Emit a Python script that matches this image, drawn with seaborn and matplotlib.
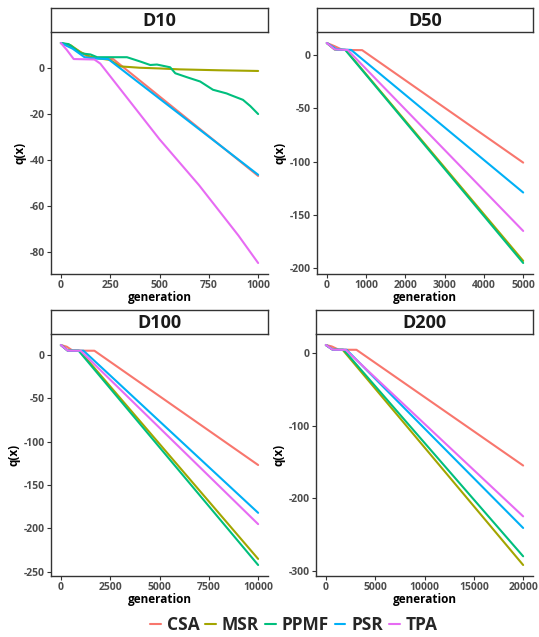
import matplotlib
matplotlib.use("Agg")
import matplotlib.pyplot as plt
from matplotlib.lines import Line2D
import seaborn as sns
import pandas as pd

# ---------------- data ----------------
methods = ["CSA", "MSR", "PPMF", "PSR", "TPA"]
colors = ["#F8766D", "#A3A500", "#00BF7D", "#00B0F6", "#E76BF3"]
panels = ["D10", "D50", "D100", "D200"]

# D10
d10_csa_gen = [0, 50, 100, 140, 200, 265, 1000]
d10_csa_q = [11, 9.5, 7, 4.8, 4.3, 4, -47]
d10_msr_gen = [0, 50, 100, 150, 200, 250, 300, 400, 500, 600, 800, 1000]
d10_msr_q = [11, 10, 7, 5, 4.2, 3.6, 0.8, 0.2, -0.1, -0.5, -0.9, -1.2]
d10_ppmf_gen = [0, 40, 100, 150, 184, 335, 403, 453, 487, 554, 580, 638, 706, 771, 840, 857, 923, 960, 1000]
d10_ppmf_q = [11, 10.5, 6.5, 6, 4.8, 4.8, 2.9, 1.4, 1.6, 0.4, -2.2, -3.9, -5.8, -9.4, -11, -11.6, -13.8, -16.5, -20]
d10_psr_gen = [0, 60, 120, 180, 240, 1000]
d10_psr_q = [11, 8.5, 4.8, 4.2, 4, -46.5]
d10_tpa_gen = [0, 30, 65, 170, 200, 250, 300, 350, 400, 450, 500, 550, 600, 650, 700, 750, 800, 850, 900, 950, 1000]
d10_tpa_q = [11, 8, 4, 3.8, 2, -3.5, -9, -14.5, -20, -25.5, -31, -36, -41, -46, -51, -56.5, -62, -67.5, -73, -79, -85]

# D50
d50_csa_gen = [0, 200, 400, 900, 5000]
d50_csa_q = [11, 8, 4.5, 4.3, -101]
d50_msr_gen = [0, 200, 480, 5000]
d50_msr_q = [11, 5, 4.5, -193]
d50_ppmf_gen = [0, 200, 470, 5000]
d50_ppmf_q = [11, 5, 4.5, -195]
d50_psr_gen = [0, 250, 620, 5000]
d50_psr_q = [11, 5, 4.5, -129]
d50_tpa_gen = [0, 200, 530, 5000]
d50_tpa_q = [11, 5, 4.5, -165]

# D100
d100_csa_gen = [0, 300, 600, 1700, 10000]
d100_csa_q = [11, 9, 4.5, 4.4, -127]
d100_msr_gen = [0, 350, 950, 10000]
d100_msr_q = [11, 4.5, 4.4, -235]
d100_ppmf_gen = [0, 350, 900, 10000]
d100_ppmf_q = [11, 4.5, 4.4, -242]
d100_psr_gen = [0, 350, 1150, 10000]
d100_psr_q = [11, 4.5, 4.4, -182]
d100_tpa_gen = [0, 350, 1000, 10000]
d100_tpa_q = [11, 4.5, 4.4, -195]

# D200
d200_csa_gen = [0, 600, 1300, 3100, 20000]
d200_csa_q = [11, 9, 4.5, 4.4, -155]
d200_msr_gen = [0, 700, 1700, 20000]
d200_msr_q = [11, 4.5, 4.4, -292]
d200_ppmf_gen = [0, 700, 1800, 20000]
d200_ppmf_q = [11, 4.5, 4.4, -280]
d200_psr_gen = [0, 700, 2100, 20000]
d200_psr_q = [11, 4.5, 4.4, -241]
d200_tpa_gen = [0, 700, 2000, 20000]
d200_tpa_q = [11, 4.5, 4.4, -225]

xticks = {
    "D10": [0, 250, 500, 750, 1000],
    "D50": [0, 1000, 2000, 3000, 4000, 5000],
    "D100": [0, 2500, 5000, 7500, 10000],
    "D200": [0, 5000, 10000, 15000, 20000],
}
yticks = {
    "D10": [0, -20, -40, -60, -80],
    "D50": [0, -50, -100, -150, -200],
    "D100": [0, -50, -100, -150, -200, -250],
    "D200": [0, -100, -200, -300],
}

series = {
    "D10": [(d10_csa_gen, d10_csa_q), (d10_msr_gen, d10_msr_q), (d10_ppmf_gen, d10_ppmf_q),
            (d10_psr_gen, d10_psr_q), (d10_tpa_gen, d10_tpa_q)],
    "D50": [(d50_csa_gen, d50_csa_q), (d50_msr_gen, d50_msr_q), (d50_ppmf_gen, d50_ppmf_q),
            (d50_psr_gen, d50_psr_q), (d50_tpa_gen, d50_tpa_q)],
    "D100": [(d100_csa_gen, d100_csa_q), (d100_msr_gen, d100_msr_q), (d100_ppmf_gen, d100_ppmf_q),
             (d100_psr_gen, d100_psr_q), (d100_tpa_gen, d100_tpa_q)],
    "D200": [(d200_csa_gen, d200_csa_q), (d200_msr_gen, d200_msr_q), (d200_ppmf_gen, d200_ppmf_q),
             (d200_psr_gen, d200_psr_q), (d200_tpa_gen, d200_tpa_q)],
}

rows = []
for p in panels:
    for m, (g, q) in zip(methods, series[p]):
        for gi, qi in zip(g, q):
            rows.append((p, m, gi, qi))
df = pd.DataFrame(rows, columns=["panel", "method", "generation", "q"])

# ---------------- plot ----------------
sns.set_theme(style="white")
plt.rcParams["font.family"] = ["Open Sans", "DejaVu Sans"]

W, H = 539, 637
fig = plt.figure(figsize=(W / 100, H / 100), dpi=100)
fig.patch.set_facecolor("white")

# pixel boxes: left, top, right, bottom
boxes = {
    "D10": (51, 32, 268, 274),
    "D50": (317, 32, 533, 274),
    "D100": (51, 334, 268, 576),
    "D200": (316, 334, 533, 576),
}
strip_h = 24
palette = dict(zip(methods, colors))
axis_col = "#333333"

for p in panels:
    l, t, r, b = boxes[p]
    ax = fig.add_axes([l / W, 1 - b / H, (r - l) / W, (b - t) / H])
    sub = df[df.panel == p]
    sns.lineplot(data=sub, x="generation", y="q", hue="method", hue_order=methods,
                 palette=palette, estimator=None, sort=True, linewidth=1.5,
                 legend=False, ax=ax)
    xmax = sub.generation.max()
    ax.set_xlim(-0.05 * xmax, 1.05 * xmax)
    ymin, ymax = sub.q.min(), sub.q.max()
    span = ymax - ymin
    ax.set_ylim(ymin - 0.05 * span, ymax + 0.05 * span)
    ax.set_xticks(xticks[p])
    ax.set_yticks(yticks[p])
    ax.set_xticklabels([str(v) for v in xticks[p]])
    ax.set_yticklabels([str(v) for v in yticks[p]])
    for s in ["top", "right"]:
        ax.spines[s].set_visible(False)
    for s in ["left", "bottom"]:
        ax.spines[s].set_color(axis_col)
        ax.spines[s].set_linewidth(1.0)
    ax.tick_params(axis="both", which="major", length=3, width=0.8, color=axis_col,
                   labelsize=7.5, labelcolor="#4d4d4d", pad=1.5, bottom=True, left=True)
    for lab in ax.get_xticklabels() + ax.get_yticklabels():
        lab.set_fontweight("bold")
    ax.set_xlabel("generation", fontsize=8.5, fontweight="bold", color="black", labelpad=0)
    ax.set_ylabel("q(x)", fontsize=8.5, fontweight="bold", color="black", labelpad=2)
    ax.set_facecolor("none")

    # strip
    sax = fig.add_axes([l / W, 1 - t / H, (r - l) / W, strip_h / H])
    sax.set_xlim(0, 1)
    sax.set_ylim(0, 1)
    sax.set_xticks([])
    sax.set_yticks([])
    sax.set_facecolor("white")
    for s in sax.spines.values():
        s.set_color(axis_col)
        s.set_linewidth(1.0)
    sax.text(0.5, 0.47, p, ha="center", va="center", fontsize=13, fontweight="bold",
             color="#1a1a1a")

handles = [Line2D([0], [0], color=c, lw=1.5) for c in colors]
fig.legend(handles, methods, loc="center", bbox_to_anchor=(294 / W, 1 - 625 / H), ncol=5,
           frameon=False, handlelength=0.6, handletextpad=0.35, columnspacing=0.35,
           prop={"size": 12.5, "weight": "bold"})

fig.savefig("out.png", dpi=100, facecolor="white")
